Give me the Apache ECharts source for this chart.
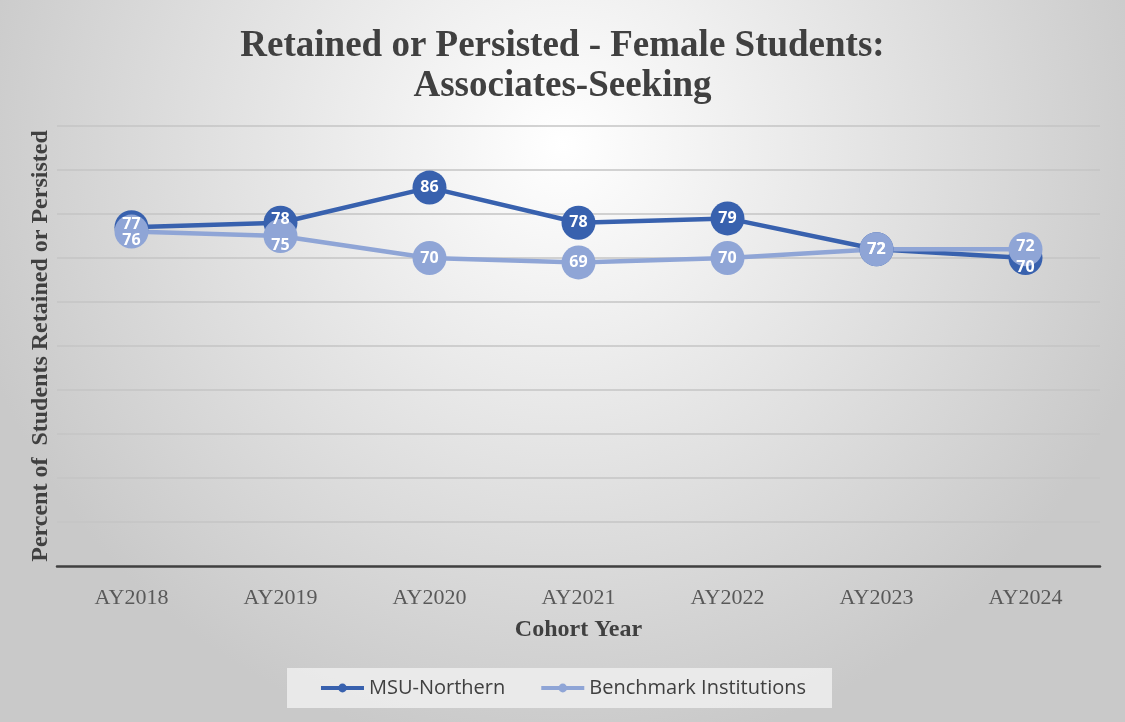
<!DOCTYPE html>
<html>
<head>
<meta charset="utf-8">
<script src="https://cdn.jsdelivr.net/npm/echarts@6/dist/echarts.min.js"></script>
<style>
html, body { margin: 0; padding: 0; }
#chart { width: 1125px; height: 722px; }
</style>
</head>
<body>
<div id="chart"></div>
<script>
// cohort years and retention percents
var years = ['AY2018', 'AY2019', 'AY2020', 'AY2021', 'AY2022', 'AY2023', 'AY2024'];
var msuNorthern = [77, 78, 86, 78, 79, 72, 70];
var benchmark = [76, 75, 70, 69, 70, 72, 72];

var DarkBlue = '#3861AE';
var LightBlue = '#8FA5D6';
var SerifFont = '"Liberation Serif", "DejaVu Serif", serif';

var chart = echarts.init(document.getElementById('chart'));

// when the two points sit close together, nudge the labels apart (upper one up, lower one down)
function withLabelNudge(data, other)
{
	return data.map(function (v, i) {
		var d = v - other[i];
		if (d === 0 || Math.abs(d) > 4) return v;
		return { value: v, label: { offset: [0, d > 0 ? -3 : 9] } };
	});
}

function lineSeries(name, data, other, color)
{
	return {
		name: name,
		type: 'line',
		data: withLabelNudge(data, other),
		symbol: 'circle',
		symbolSize: 34,
		lineStyle: { color: color, width: 4.5 },
		itemStyle: { color: color },
		label: {
			show: true,
			position: 'inside',
			color: '#ffffff',
			fontFamily: '"Open Sans", "Noto Sans", sans-serif',
			fontWeight: 'bold',
			fontSize: 16
		},
		emphasis: { disabled: true }
	};
}

chart.setOption({
	animation: false,
	backgroundColor: {
		type: 'radial', x: 0.5, y: 0.2, r: 0.85,
		colorStops: [
			{ offset: 0, color: '#ffffff' },
			{ offset: 1, color: '#c9c9c9' }
		]
	},
	title: {
		text: 'Retained or Persisted - Female Students:\nAssociates-Seeking',
		left: 'center',
		top: 21,
		textStyle: {
			fontFamily: SerifFont,
			fontWeight: 'bold',
			fontSize: 37,
			lineHeight: 40,
			color: '#404040'
		}
	},
	legend: {
		bottom: 14,
		left: 'center',
		itemWidth: 43,
		itemHeight: 11,
		itemGap: 34,
		padding: [10, 26, 10, 32],
		backgroundColor: 'rgba(238,238,238,0.85)',
		lineStyle: { width: 4 },
		textStyle: {
			fontFamily: '"Open Sans", "Noto Sans", sans-serif',
			fontSize: 20,
			color: '#404040'
		},
		data: ['MSU-Northern', 'Benchmark Institutions']
	},
	grid: { left: 57, right: 25, top: 126, bottom: 156 },
	xAxis: {
		type: 'category',
		data: years,
		boundaryGap: true,
		axisLine: { lineStyle: { color: '#404040', width: 2.5 } },
		axisTick: { show: false },
		axisLabel: {
			fontFamily: SerifFont,
			fontSize: 22,
			color: '#595959',
			margin: 21
		},
		name: 'Cohort Year',
		nameLocation: 'middle',
		nameGap: 52,
		nameTextStyle: {
			fontFamily: SerifFont,
			fontWeight: 'bold',
			fontSize: 24,
			color: '#404040'
		}
	},
	yAxis: {
		type: 'value',
		min: 0,
		max: 100,
		interval: 10,
		axisLabel: { show: false },
		axisLine: { show: false },
		axisTick: { show: false },
		splitLine: { lineStyle: { color: '#c4c4c4', width: 1.5 } },
		name: 'Percent of  Students Retained or Persisted',
		nameLocation: 'middle',
		nameGap: 4,
		nameTextStyle: {
			fontFamily: SerifFont,
			fontWeight: 'bold',
			fontSize: 24,
			color: '#404040'
		}
	},
	series: [
		lineSeries('MSU-Northern', msuNorthern, benchmark, DarkBlue),
		lineSeries('Benchmark Institutions', benchmark, msuNorthern, LightBlue)
	]
});
</script>
</body>
</html>
